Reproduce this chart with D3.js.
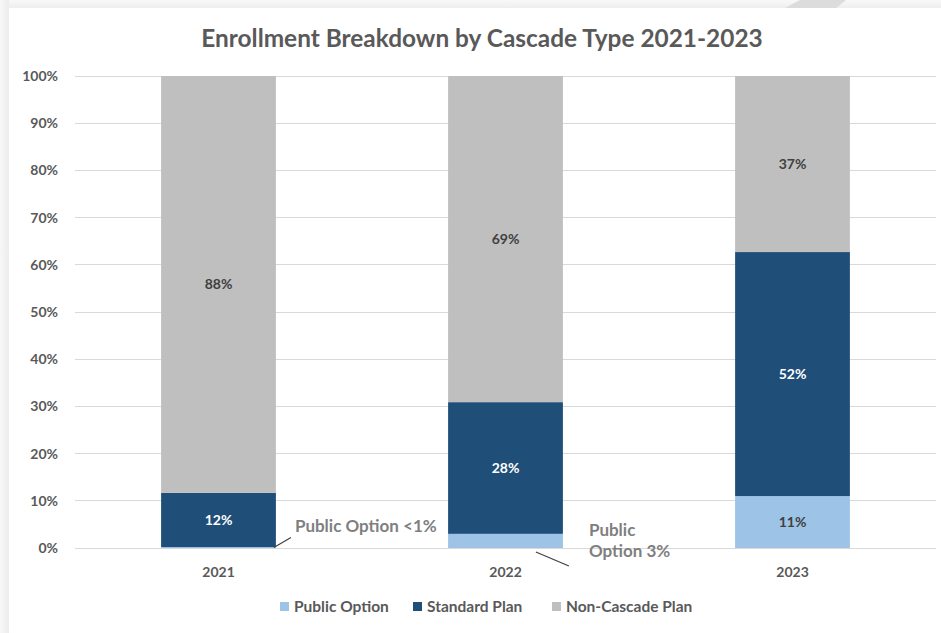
<!DOCTYPE html>
<html><head><meta charset="utf-8">
<script src="https://cdn.jsdelivr.net/npm/d3@7/dist/d3.min.js"></script>
<style>body{margin:0;background:#fff;}svg{display:block;}</style>
</head><body>
<svg id="chart" width="941" height="633"></svg>
<script>
const years = ["2021", "2022", "2023"];
const seriesNames = ["Public Option", "Standard Plan", "Non-Cascade Plan"];
const publicOption = [0.2, 3.0, 11.0];
const standardPlan = [11.5, 27.9, 51.7];
const nonCascadePlan = [88.3, 69.1, 37.3];
const yTicks = [0, 10, 20, 30, 40, 50, 60, 70, 80, 90, 100];
const colors = ["#9DC3E6", "#1F4E79", "#BFBFBF"];
const labelColors = ["#404040", "#FFFFFF", "#404040"];

const svg = d3.select("#chart");
const W = 941, H = 633;
const FONT = "Lato, 'Open Sans', sans-serif";

// background frame
const defs = svg.append("defs");
const gl = defs.append("linearGradient").attr("id","gl").attr("x1",0).attr("x2",1).attr("y1",0).attr("y2",0);
gl.append("stop").attr("offset",0).attr("stop-color","#f7f7f7");
gl.append("stop").attr("offset",1).attr("stop-color","#ececec");
const gt = defs.append("linearGradient").attr("id","gt").attr("x1",0).attr("x2",0).attr("y1",0).attr("y2",1);
gt.append("stop").attr("offset",0).attr("stop-color","#f8f8f8");
gt.append("stop").attr("offset",1).attr("stop-color","#eeeeee");
svg.append("rect").attr("x",0).attr("y",0).attr("width",W).attr("height",8).attr("fill","url(#gt)");
svg.append("rect").attr("x",0).attr("y",0).attr("width",9).attr("height",H).attr("fill","url(#gl)");
svg.append("path").attr("d","M785,8 L800,0 L846,0 L836,8 Z").attr("fill","#dcdcdc");
svg.append("rect").attr("x",9).attr("y",8).attr("width",W-9).attr("height",H-8).attr("fill","#fff");

const x = d3.scaleBand().domain(years).range([75, 936]).paddingInner(0.6).paddingOuter(0.3);
const y = d3.scaleLinear().domain([0, 100]).range([548, 76]);

// title
svg.append("text").attr("x", 482).attr("y", 47).attr("text-anchor","middle")
  .attr("font-family", FONT).attr("font-weight","bold").attr("font-size", 24.4)
  .attr("fill","#595959").text("Enrollment Breakdown by Cascade Type 2021-2023");

// grid
const grid = svg.append("g");
grid.selectAll("line").data(yTicks).join("line")
  .attr("x1", 75).attr("x2", 936)
  .attr("y1", d => y(d)).attr("y2", d => y(d))
  .attr("stroke", "#d9d9d9").attr("stroke-width", 1)
  .attr("shape-rendering","crispEdges");

// y axis labels
const yAxis = d3.axisLeft(y).tickValues(yTicks).tickFormat(d => d + "%").tickSize(0).tickPadding(17);
const yg = svg.append("g").attr("transform","translate(75,0)").call(yAxis);
yg.select(".domain").remove();
yg.selectAll("text").attr("font-family", FONT).attr("font-weight","bold").attr("font-size", 14).attr("fill","#595959");

// x axis labels
const xAxis = d3.axisBottom(x).tickSize(0).tickPadding(19);
const xg = svg.append("g").attr("transform","translate(0,548)").call(xAxis);
xg.select(".domain").remove();
xg.selectAll("text").attr("font-family", FONT).attr("font-weight","bold").attr("font-size", 14).attr("fill","#595959");

// stacked data
const table = years.map((yr, i) => ({year: yr, "Public Option": publicOption[i], "Standard Plan": standardPlan[i], "Non-Cascade Plan": nonCascadePlan[i]}));
const stack = d3.stack().keys(seriesNames)(table);

const layers = svg.append("g").selectAll("g").data(stack).join("g").attr("fill", (d, i) => colors[i]);
layers.selectAll("rect").data(d => d).join("rect")
  .attr("x", d => x(d.data.year)).attr("width", x.bandwidth())
  .attr("y", d => y(d[1])).attr("height", d => y(d[0]) - y(d[1]));

// inside labels
stack.forEach((layer, si) => {
  layer.forEach((d, i) => {
    const v = d[1] - d[0];
    if (v < 5) return;
    svg.append("text").attr("x", x(d.data.year) + x.bandwidth()/2).attr("y", y((d[0]+d[1])/2))
      .attr("dy","0.35em").attr("text-anchor","middle")
      .attr("font-family", FONT).attr("font-weight","bold").attr("font-size", 14)
      .attr("fill", labelColors[si]).text(Math.round(v) + "%");
  });
});

// callout labels for small public option values
const calloutFont = s => s.attr("font-family", FONT).attr("font-weight","bold").attr("font-size", 17).attr("fill","#7f7f7f");
// 2021
{
  const bx = x("2021") + x.bandwidth();
  const by = y(publicOption[0] / 2);
  svg.append("line").attr("x1", bx - 2).attr("y1", by).attr("x2", bx + 15).attr("y2", by - 10).attr("stroke","#404040").attr("stroke-width",1.2);
  svg.append("text").attr("x", bx + 19).attr("y", by - 16).call(calloutFont).text("Public Option <" + Math.ceil(publicOption[0]) + "%");
}
// 2022
{
  const bx = x("2022") + x.bandwidth();
  const by = y(0);
  svg.append("line").attr("x1", bx - 27).attr("y1", by + 4).attr("x2", bx + 6).attr("y2", by + 18).attr("stroke","#404040").attr("stroke-width",1.2);
  svg.append("text").attr("x", bx + 26).attr("y", by - 12).call(calloutFont).text("Public");
  svg.append("text").attr("x", bx + 26).attr("y", by + 9).call(calloutFont).text("Option " + Math.round(publicOption[1]) + "%");
}

// legend
const legendX = [280, 413, 552];
const lg = svg.append("g").selectAll("g").data(seriesNames).join("g")
  .attr("transform", (d, i) => `translate(${legendX[i]},602)`);
lg.append("rect").attr("width", 9).attr("height", 9).attr("fill", (d, i) => colors[i]);
lg.append("text").attr("x", 14).attr("y", 4.5).attr("dy","0.35em")
  .attr("font-family", FONT).attr("font-weight","bold").attr("font-size", 15.5).attr("fill","#595959").text(d => d);
</script>
</body></html>
